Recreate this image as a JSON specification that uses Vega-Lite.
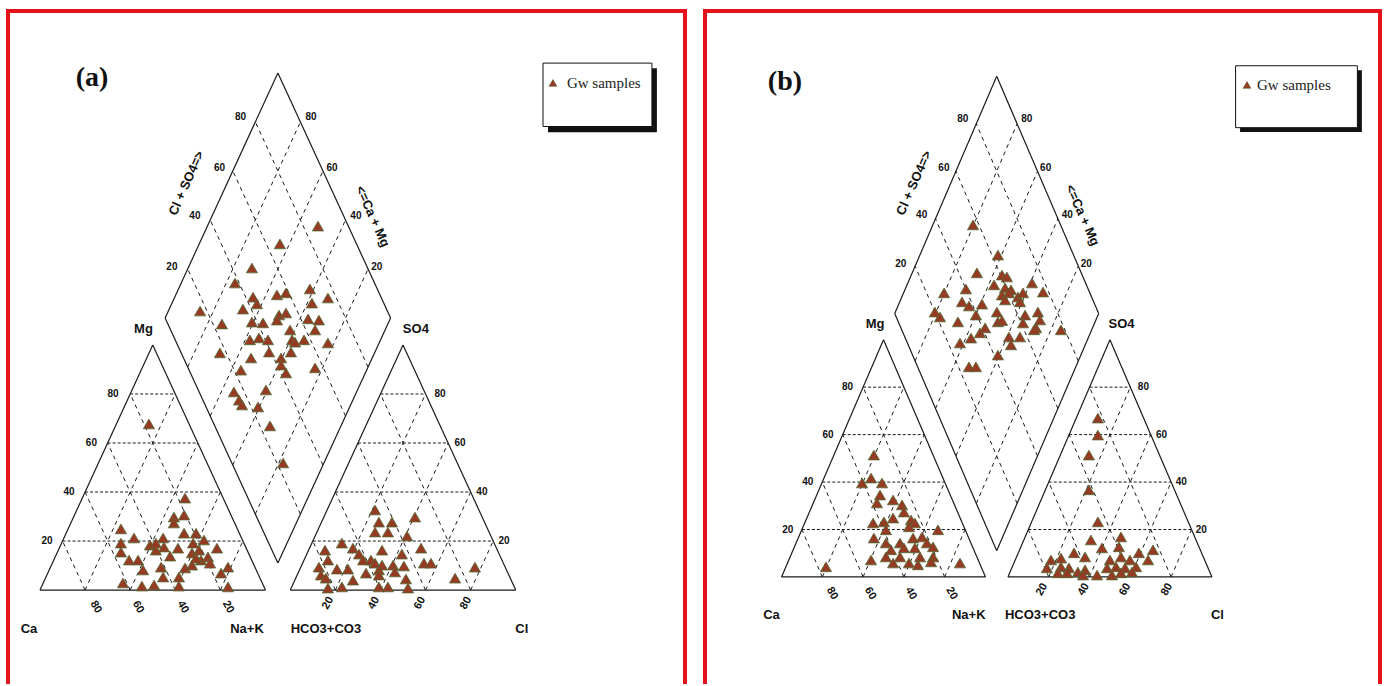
{
"$schema":"https://vega.github.io/schema/vega-lite/v6.json",
"padding":0,"spacing":0,"bounds":"flush","background":"white",
"config":{"view":{"stroke":null}},
"datasets":{
"frame":[
{"p":"a","x":-14.19,"y":205.3,"x2":-14.19,"y2":-33.2},
{"p":"a","x":286.06,"y":205.3,"x2":286.06,"y2":-33.2},
{"p":"a","x":-15.08,"y":204.6,"x2":286.95,"y2":204.6},
{"p":"b","x":-37.5,"y":207.3,"x2":-37.5,"y2":-39.06},
{"p":"b","x":293.4,"y":207.3,"x2":293.4,"y2":-39.06},
{"p":"b","x":-38.48,"y":206.6,"x2":294.38,"y2":206.6}
],
"grid":[
{"k":"outline","x":0,"y":0,"x2":100,"y2":0},
{"k":"outline","x":0,"y":0,"x2":50,"y2":86.6},
{"k":"outline","x":100,"y":0,"x2":50,"y2":86.6},
{"k":"outline","x":111,"y":0,"x2":211,"y2":0},
{"k":"outline","x":111,"y":0,"x2":161,"y2":86.6},
{"k":"outline","x":211,"y":0,"x2":161,"y2":86.6},
{"k":"outline","x":105.5,"y":9.53,"x2":55.5,"y2":96.13},
{"k":"outline","x":105.5,"y":9.53,"x2":155.5,"y2":96.13},
{"k":"outline","x":55.5,"y":96.13,"x2":105.5,"y2":182.73},
{"k":"outline","x":155.5,"y":96.13,"x2":105.5,"y2":182.73},
{"k":"h","x":10,"y":17.32,"x2":90,"y2":17.32},
{"k":"h","x":20,"y":34.64,"x2":80,"y2":34.64},
{"k":"h","x":30,"y":51.96,"x2":70,"y2":51.96},
{"k":"h","x":40,"y":69.28,"x2":60,"y2":69.28},
{"k":"h","x":121,"y":17.32,"x2":201,"y2":17.32},
{"k":"h","x":131,"y":34.64,"x2":191,"y2":34.64},
{"k":"h","x":141,"y":51.96,"x2":181,"y2":51.96},
{"k":"h","x":151,"y":69.28,"x2":171,"y2":69.28},
{"k":"s","x":20,"y":0,"x2":60,"y2":69.28},
{"k":"s","x":40,"y":0,"x2":70,"y2":51.96},
{"k":"s","x":60,"y":0,"x2":80,"y2":34.64},
{"k":"s","x":80,"y":0,"x2":90,"y2":17.32},
{"k":"s","x":20,"y":0,"x2":10,"y2":17.32},
{"k":"s","x":40,"y":0,"x2":20,"y2":34.64},
{"k":"s","x":60,"y":0,"x2":30,"y2":51.96},
{"k":"s","x":80,"y":0,"x2":40,"y2":69.28},
{"k":"s","x":131,"y":0,"x2":171,"y2":69.28},
{"k":"s","x":151,"y":0,"x2":181,"y2":51.96},
{"k":"s","x":171,"y":0,"x2":191,"y2":34.64},
{"k":"s","x":191,"y":0,"x2":201,"y2":17.32},
{"k":"s","x":131,"y":0,"x2":121,"y2":17.32},
{"k":"s","x":151,"y":0,"x2":131,"y2":34.64},
{"k":"s","x":171,"y":0,"x2":141,"y2":51.96},
{"k":"s","x":191,"y":0,"x2":151,"y2":69.28},
{"k":"s","x":115.5,"y":26.85,"x2":65.5,"y2":113.45},
{"k":"s","x":125.5,"y":44.17,"x2":75.5,"y2":130.77},
{"k":"s","x":135.5,"y":61.49,"x2":85.5,"y2":148.09},
{"k":"s","x":145.5,"y":78.81,"x2":95.5,"y2":165.41},
{"k":"s","x":95.5,"y":26.85,"x2":145.5,"y2":113.45},
{"k":"s","x":85.5,"y":44.17,"x2":135.5,"y2":130.77},
{"k":"s","x":75.5,"y":61.49,"x2":125.5,"y2":148.09},
{"k":"s","x":65.5,"y":78.81,"x2":115.5,"y2":165.41}
],
"labels":[
{"k":"corner","t":"Ca","x":-4.9,"y":-13.8},
{"k":"corner","t":"Na+K","x":91.8,"y":-13.8},
{"k":"corner","t":"HCO3+CO3","x":126.8,"y":-13.8},
{"k":"corner","t":"Cl","x":213.7,"y":-13.8},
{"k":"corner","t":"Mg","x":45.9,"y":92.2},
{"k":"corner","t":"SO4","x":166.7,"y":92.2},
{"k":"tick","t":"80","x":32.4,"y":69.3},
{"k":"tick","t":"60","x":22.8,"y":52.0},
{"k":"tick","t":"40","x":12.9,"y":34.6},
{"k":"tick","t":"20","x":3.1,"y":17.3},
{"k":"tick","t":"80","x":177.4,"y":69.3},
{"k":"tick","t":"60","x":186.3,"y":52.0},
{"k":"tick","t":"40","x":196.0,"y":34.6},
{"k":"tick","t":"20","x":205.8,"y":17.3},
{"k":"tick","t":"80","x":88.9,"y":167.1},
{"k":"tick","t":"60","x":79.6,"y":149.1},
{"k":"tick","t":"40","x":68.7,"y":132.2},
{"k":"tick","t":"20","x":58.5,"y":114.1},
{"k":"tick","t":"80","x":120.2,"y":167.1},
{"k":"tick","t":"60","x":129.5,"y":149.1},
{"k":"tick","t":"40","x":140.1,"y":132.2},
{"k":"tick","t":"20","x":149.4,"y":114.1},
{"k":"tickCa","t":"80","x":24.8,"y":-6.0},
{"k":"tickCa","t":"60","x":43.5,"y":-6.0},
{"k":"tickCa","t":"40","x":63.4,"y":-6.0},
{"k":"tickCa","t":"20","x":83.4,"y":-6.0},
{"k":"tickCl","t":"20","x":127.7,"y":-4.6},
{"k":"tickCl","t":"40","x":148.1,"y":-4.6},
{"k":"tickCl","t":"60","x":168.5,"y":-4.6},
{"k":"tickCl","t":"80","x":188.9,"y":-4.6},
{"k":"titleL","t":"Cl + SO4=>","x":65.0,"y":143.8},
{"k":"titleR","t":"<=Ca + Mg","x":147.5,"y":132.0}
],
"legend":[
{"p":"a","k":"shadow","x":225.3,"y":184.4,"x2":273.6,"y2":161.8},
{"p":"a","k":"box","x":223.1,"y":186.2,"x2":271.4,"y2":163.8},
{"p":"b","k":"shadow","x":224.8,"y":185.0,"x2":284.5,"y2":162.4},
{"p":"b","k":"box","x":222.6,"y":186.6,"x2":282.3,"y2":164.0}
],
"legendItem":[
{"p":"a","k":"sym","t":"Gw samples","x":227.5,"y":179.2},
{"p":"a","k":"txt","t":"Gw samples","x":233.7,"y":179.2},
{"p":"b","k":"sym","t":"Gw samples","x":228.2,"y":179.6},
{"p":"b","k":"txt","t":"Gw samples","x":233.1,"y":179.6}
],
"panelLabel":[
{"p":"a","t":"(a)","x":23.1,"y":180.9},
{"p":"b","t":"(b)","x":1.7,"y":180.7}
],
"points":[
{"p":"a","x":123.3,"y":128.6},{"p":"a","x":106.4,"y":122.3},{"p":"a","x":94.0,"y":113.8},{"p":"a","x":86.5,"y":108.5},{"p":"a","x":71.0,"y":98.6},{"p":"a","x":80.7,"y":94.0},{"p":"a","x":94.5,"y":103.5},{"p":"a","x":96.2,"y":101.1},{"p":"a","x":90.0,"y":99.3},{"p":"a","x":105.1,"y":104.3},{"p":"a","x":109.1,"y":105.0},{"p":"a","x":119.7,"y":106.4},{"p":"a","x":120.6,"y":101.4},{"p":"a","x":127.7,"y":103.2},{"p":"a","x":106.0,"y":97.2},{"p":"a","x":109.1,"y":97.9},{"p":"a","x":94.0,"y":94.7},{"p":"a","x":98.9,"y":94.4},{"p":"a","x":105.1,"y":95.4},{"p":"a","x":118.9,"y":95.8},{"p":"a","x":123.7,"y":95.4},{"p":"a","x":122.0,"y":91.9},{"p":"a","x":110.9,"y":91.9},{"p":"a","x":93.1,"y":88.4},{"p":"a","x":97.1,"y":89.1},{"p":"a","x":101.1,"y":88.4},{"p":"a","x":111.8,"y":88.4},{"p":"a","x":117.1,"y":88.4},{"p":"a","x":127.7,"y":87.3},{"p":"a","x":113.1,"y":87.6},{"p":"a","x":79.8,"y":83.8},{"p":"a","x":93.6,"y":82.0},{"p":"a","x":101.6,"y":84.1},{"p":"a","x":111.3,"y":84.1},{"p":"a","x":106.9,"y":82.0},{"p":"a","x":106.9,"y":79.5},{"p":"a","x":109.1,"y":76.7},{"p":"a","x":89.1,"y":77.7},{"p":"a","x":100.2,"y":70.7},{"p":"a","x":86.0,"y":70.0},{"p":"a","x":88.3,"y":67.1},{"p":"a","x":89.6,"y":65.4},{"p":"a","x":96.7,"y":64.7},{"p":"a","x":102.0,"y":58.0},{"p":"a","x":107.8,"y":44.9},{"p":"a","x":122.0,"y":78.5},
{"p":"a","x":48.3,"y":58.7},{"p":"a","x":64.3,"y":32.5},{"p":"a","x":59.4,"y":25.8},{"p":"a","x":63.9,"y":26.5},{"p":"a","x":59.4,"y":23.7},{"p":"a","x":35.9,"y":21.6},{"p":"a","x":63.9,"y":20.1},{"p":"a","x":69.2,"y":20.1},{"p":"a","x":35.9,"y":16.6},{"p":"a","x":41.7,"y":18.4},{"p":"a","x":48.8,"y":15.9},{"p":"a","x":54.6,"y":18.4},{"p":"a","x":55.0,"y":15.2},{"p":"a","x":61.2,"y":14.8},{"p":"a","x":67.9,"y":16.6},{"p":"a","x":72.7,"y":17.7},{"p":"a","x":78.5,"y":14.8},{"p":"a","x":35.9,"y":13.4},{"p":"a","x":39.5,"y":10.6},{"p":"a","x":43.5,"y":10.6},{"p":"a","x":51.4,"y":14.1},{"p":"a","x":57.7,"y":12.0},{"p":"a","x":67.4,"y":13.1},{"p":"a","x":70.5,"y":14.1},{"p":"a","x":71.4,"y":10.6},{"p":"a","x":74.5,"y":11.7},{"p":"a","x":75.4,"y":9.5},{"p":"a","x":83.4,"y":8.1},{"p":"a","x":45.7,"y":7.1},{"p":"a","x":53.7,"y":8.1},{"p":"a","x":64.3,"y":7.8},{"p":"a","x":67.4,"y":8.8},{"p":"a","x":80.3,"y":6.0},{"p":"a","x":54.6,"y":4.6},{"p":"a","x":61.6,"y":4.6},{"p":"a","x":36.8,"y":2.5},{"p":"a","x":45.2,"y":1.4},{"p":"a","x":50.6,"y":1.8},{"p":"a","x":61.6,"y":1.4},{"p":"a","x":83.4,"y":1.1},{"p":"a","x":51.4,"y":16.6},{"p":"a","x":69.2,"y":11.3},
{"p":"a","x":148.6,"y":28.3},{"p":"a","x":150.3,"y":24.0},{"p":"a","x":156.1,"y":24.0},{"p":"a","x":166.3,"y":25.8},{"p":"a","x":148.6,"y":20.5},{"p":"a","x":154.3,"y":20.5},{"p":"a","x":162.8,"y":19.1},{"p":"a","x":133.9,"y":16.6},{"p":"a","x":138.8,"y":14.8},{"p":"a","x":126.4,"y":14.1},{"p":"a","x":141.5,"y":12.7},{"p":"a","x":151.7,"y":14.1},{"p":"a","x":160.5,"y":12.7},{"p":"a","x":169.0,"y":14.8},{"p":"a","x":127.7,"y":10.6},{"p":"a","x":143.3,"y":10.6},{"p":"a","x":146.8,"y":10.6},{"p":"a","x":148.6,"y":9.5},{"p":"a","x":151.7,"y":8.8},{"p":"a","x":156.6,"y":8.8},{"p":"a","x":161.4,"y":8.5},{"p":"a","x":170.3,"y":9.5},{"p":"a","x":173.4,"y":9.5},{"p":"a","x":192.9,"y":8.1},{"p":"a","x":123.7,"y":8.1},{"p":"a","x":131.7,"y":7.4},{"p":"a","x":136.6,"y":7.4},{"p":"a","x":150.3,"y":7.1},{"p":"a","x":157.4,"y":6.4},{"p":"a","x":124.6,"y":5.3},{"p":"a","x":126.8,"y":4.2},{"p":"a","x":138.8,"y":3.5},{"p":"a","x":144.6,"y":6.0},{"p":"a","x":150.3,"y":5.3},{"p":"a","x":162.3,"y":3.9},{"p":"a","x":184.1,"y":4.2},{"p":"a","x":127.7,"y":0.7},{"p":"a","x":133.9,"y":1.1},{"p":"a","x":150.3,"y":1.1},{"p":"a","x":154.3,"y":1.1},{"p":"a","x":163.2,"y":0.7},
{"p":"b","x":93.9,"y":128.5},{"p":"b","x":106.1,"y":117.5},{"p":"b","x":95.8,"y":111.0},{"p":"b","x":108.1,"y":110.2},{"p":"b","x":110.5,"y":109.5},{"p":"b","x":122.8,"y":107.3},{"p":"b","x":104.2,"y":106.6},{"p":"b","x":79.7,"y":103.7},{"p":"b","x":90.4,"y":105.1},{"p":"b","x":109.6,"y":105.5},{"p":"b","x":112.5,"y":104.8},{"p":"b","x":108.1,"y":102.9},{"p":"b","x":111.5,"y":103.7},{"p":"b","x":115.9,"y":102.2},{"p":"b","x":118.4,"y":103.7},{"p":"b","x":128.2,"y":104.0},{"p":"b","x":88.5,"y":100.4},{"p":"b","x":91.9,"y":98.9},{"p":"b","x":98.3,"y":99.6},{"p":"b","x":109.6,"y":101.1},{"p":"b","x":116.9,"y":100.4},{"p":"b","x":75.2,"y":96.7},{"p":"b","x":77.7,"y":94.9},{"p":"b","x":86.5,"y":93.1},{"p":"b","x":95.3,"y":95.6},{"p":"b","x":105.6,"y":96.7},{"p":"b","x":106.1,"y":93.1},{"p":"b","x":119.4,"y":95.6},{"p":"b","x":125.7,"y":96.7},{"p":"b","x":126.7,"y":93.8},{"p":"b","x":99.8,"y":90.9},{"p":"b","x":108.1,"y":93.6},{"p":"b","x":118.4,"y":92.7},{"p":"b","x":124.8,"y":90.9},{"p":"b","x":137.0,"y":90.2},{"p":"b","x":97.3,"y":89.1},{"p":"b","x":111.5,"y":87.6},{"p":"b","x":87.5,"y":85.4},{"p":"b","x":92.9,"y":87.2},{"p":"b","x":116.9,"y":87.6},{"p":"b","x":123.8,"y":90.2},{"p":"b","x":112.5,"y":84.7},{"p":"b","x":106.1,"y":81.0},{"p":"b","x":91.9,"y":76.7},{"p":"b","x":95.3,"y":76.7},
{"p":"b","x":45.3,"y":44.5},{"p":"b","x":43.9,"y":36.1},{"p":"b","x":39.5,"y":34.3},{"p":"b","x":49.3,"y":34.3},{"p":"b","x":48.3,"y":29.9},{"p":"b","x":46.8,"y":27.0},{"p":"b","x":54.7,"y":28.1},{"p":"b","x":59.1,"y":26.3},{"p":"b","x":60.0,"y":23.7},{"p":"b","x":50.2,"y":20.1},{"p":"b","x":54.7,"y":21.5},{"p":"b","x":44.9,"y":19.7},{"p":"b","x":63.5,"y":20.8},{"p":"b","x":65.4,"y":19.7},{"p":"b","x":51.2,"y":17.2},{"p":"b","x":62.5,"y":18.3},{"p":"b","x":76.7,"y":17.2},{"p":"b","x":45.3,"y":14.2},{"p":"b","x":51.2,"y":12.4},{"p":"b","x":58.1,"y":12.4},{"p":"b","x":64.5,"y":14.2},{"p":"b","x":68.9,"y":14.6},{"p":"b","x":71.3,"y":12.4},{"p":"b","x":74.3,"y":11.0},{"p":"b","x":53.7,"y":9.9},{"p":"b","x":60.0,"y":10.6},{"p":"b","x":65.4,"y":10.6},{"p":"b","x":51.2,"y":7.3},{"p":"b","x":58.1,"y":7.3},{"p":"b","x":67.9,"y":7.3},{"p":"b","x":74.3,"y":7.3},{"p":"b","x":43.9,"y":6.2},{"p":"b","x":54.7,"y":5.1},{"p":"b","x":62.5,"y":5.1},{"p":"b","x":66.9,"y":4.4},{"p":"b","x":73.3,"y":5.5},{"p":"b","x":87.5,"y":5.1},{"p":"b","x":21.8,"y":3.7},
{"p":"b","x":155.1,"y":58.0},{"p":"b","x":155.1,"y":51.8},{"p":"b","x":150.7,"y":44.5},{"p":"b","x":150.7,"y":31.8},{"p":"b","x":155.1,"y":20.1},{"p":"b","x":151.7,"y":13.5},{"p":"b","x":166.4,"y":14.6},{"p":"b","x":157.1,"y":10.6},{"p":"b","x":165.4,"y":11.0},{"p":"b","x":182.1,"y":9.9},{"p":"b","x":132.1,"y":6.2},{"p":"b","x":137.0,"y":6.9},{"p":"b","x":143.4,"y":8.8},{"p":"b","x":148.8,"y":7.3},{"p":"b","x":161.0,"y":6.2},{"p":"b","x":166.4,"y":7.3},{"p":"b","x":170.8,"y":6.2},{"p":"b","x":175.2,"y":8.8},{"p":"b","x":179.7,"y":6.2},{"p":"b","x":130.1,"y":3.3},{"p":"b","x":137.0,"y":3.7},{"p":"b","x":140.9,"y":3.3},{"p":"b","x":145.3,"y":1.8},{"p":"b","x":148.8,"y":2.6},{"p":"b","x":159.6,"y":3.3},{"p":"b","x":164.0,"y":3.7},{"p":"b","x":168.4,"y":3.3},{"p":"b","x":173.8,"y":3.7},{"p":"b","x":135.5,"y":1.5},{"p":"b","x":140.0,"y":1.5},{"p":"b","x":147.8,"y":0.7},{"p":"b","x":154.7,"y":0.7},{"p":"b","x":162.0,"y":0.7},{"p":"b","x":166.4,"y":1.5},{"p":"b","x":171.8,"y":1.8}
]
},
"hconcat":[
{
"width":695,"height":686,
"encoding":{
"x":{"field":"x","type":"quantitative","scale":{"domain":[-17.74,290.5],"nice":false,"zero":false},"axis":null},
"y":{"field":"y","type":"quantitative","scale":{"domain":[-33.9,208.5],"nice":false,"zero":false},"axis":null}
},
"layer":[
{"data":{"name":"frame"},"transform":[{"filter":"datum.p=='a'"}],"mark":{"type":"rule","color":"#e3121b","strokeWidth":4},"encoding":{"x2":{"field":"x2"},"y2":{"field":"y2"}}},
{"data":{"name":"grid"},"transform":[{"filter":"datum.k=='outline'"}],"mark":{"type":"rule","color":"#1a1a1a","strokeWidth":1.2},"encoding":{"x2":{"field":"x2"},"y2":{"field":"y2"}}},
{"data":{"name":"grid"},"transform":[{"filter":"datum.k=='h'"}],"mark":{"type":"rule","color":"#1a1a1a","strokeWidth":1,"strokeDash":[3,2]},"encoding":{"x2":{"field":"x2"},"y2":{"field":"y2"}}},
{"data":{"name":"grid"},"transform":[{"filter":"datum.k=='s'"}],"mark":{"type":"rule","color":"#1a1a1a","strokeWidth":1,"strokeDash":[4,4]},"encoding":{"x2":{"field":"x2"},"y2":{"field":"y2"}}},
{"data":{"name":"legend"},"transform":[{"filter":"datum.p=='a' && datum.k=='shadow'"}],"mark":{"type":"rect","color":"#111"},"encoding":{"x2":{"field":"x2"},"y2":{"field":"y2"}}},
{"data":{"name":"legend"},"transform":[{"filter":"datum.p=='a' && datum.k=='box'"}],"mark":{"type":"rect","fill":"white","stroke":"#111","strokeWidth":1},"encoding":{"x2":{"field":"x2"},"y2":{"field":"y2"}}},
{"data":{"name":"legendItem"},"transform":[{"filter":"datum.p=='a' && datum.k=='sym'"}],"mark":{"type":"point","shape":"triangle-up","filled":true,"fill":"#973a24","stroke":"#5a5a2a","strokeWidth":0.6,"size":60,"opacity":1}},
{"data":{"name":"legendItem"},"transform":[{"filter":"datum.p=='a' && datum.k=='txt'"}],"mark":{"type":"text","align":"left","baseline":"middle","font":"Liberation Serif","fontSize":15,"color":"#222"},"encoding":{"text":{"field":"t"}}},
{"data":{"name":"points"},"transform":[{"filter":"datum.p=='a'"}],"mark":{"type":"point","shape":"triangle-up","filled":true,"fill":"#973a24","stroke":"#4e6a32","strokeWidth":0.8,"size":125,"opacity":1}},
{"data":{"name":"panelLabel"},"transform":[{"filter":"datum.p=='a'"}],"mark":{"type":"text","font":"Liberation Serif","fontWeight":"bold","fontSize":28,"color":"#111"},"encoding":{"text":{"field":"t"}}},
{"data":{"name":"labels"},"transform":[{"filter":"datum.k=='corner'"}],"mark":{"type":"text","font":"Liberation Sans","fontWeight":"bold","fontSize":13,"color":"#111"},"encoding":{"text":{"field":"t"}}},
{"data":{"name":"labels"},"transform":[{"filter":"datum.k=='tick'"}],"mark":{"type":"text","font":"Liberation Sans","fontWeight":"bold","fontSize":10,"color":"#111"},"encoding":{"text":{"field":"t"}}},
{"data":{"name":"labels"},"transform":[{"filter":"datum.k=='tickCa'"}],"mark":{"type":"text","font":"Liberation Sans","fontWeight":"bold","fontSize":11,"angle":60,"color":"#111"},"encoding":{"text":{"field":"t"}}},
{"data":{"name":"labels"},"transform":[{"filter":"datum.k=='tickCl'"}],"mark":{"type":"text","font":"Liberation Sans","fontWeight":"bold","fontSize":11,"angle":-60,"color":"#111"},"encoding":{"text":{"field":"t"}}},
{"data":{"name":"labels"},"transform":[{"filter":"datum.k=='titleL'"}],"mark":{"type":"text","font":"Liberation Sans","fontWeight":"bold","fontSize":13,"angle":-66,"color":"#111"},"encoding":{"text":{"field":"t"}}},
{"data":{"name":"labels"},"transform":[{"filter":"datum.k=='titleR'"}],"mark":{"type":"text","font":"Liberation Sans","fontWeight":"bold","fontSize":13,"angle":66,"color":"#111"},"encoding":{"text":{"field":"t"}}}
]
},
{
"width":694,"height":686,
"encoding":{
"x":{"field":"x","type":"quantitative","scale":{"domain":[-42.4,297.8],"nice":false,"zero":false},"axis":null},
"y":{"field":"y","type":"quantitative","scale":{"domain":[-39.8,210.6],"nice":false,"zero":false},"axis":null}
},
"layer":[
{"data":{"name":"frame"},"transform":[{"filter":"datum.p=='b'"}],"mark":{"type":"rule","color":"#e3121b","strokeWidth":4},"encoding":{"x2":{"field":"x2"},"y2":{"field":"y2"}}},
{"data":{"name":"grid"},"transform":[{"filter":"datum.k=='outline'"}],"mark":{"type":"rule","color":"#1a1a1a","strokeWidth":1.2},"encoding":{"x2":{"field":"x2"},"y2":{"field":"y2"}}},
{"data":{"name":"grid"},"transform":[{"filter":"datum.k=='h'"}],"mark":{"type":"rule","color":"#1a1a1a","strokeWidth":1,"strokeDash":[3,2]},"encoding":{"x2":{"field":"x2"},"y2":{"field":"y2"}}},
{"data":{"name":"grid"},"transform":[{"filter":"datum.k=='s'"}],"mark":{"type":"rule","color":"#1a1a1a","strokeWidth":1,"strokeDash":[4,4]},"encoding":{"x2":{"field":"x2"},"y2":{"field":"y2"}}},
{"data":{"name":"legend"},"transform":[{"filter":"datum.p=='b' && datum.k=='shadow'"}],"mark":{"type":"rect","color":"#111"},"encoding":{"x2":{"field":"x2"},"y2":{"field":"y2"}}},
{"data":{"name":"legend"},"transform":[{"filter":"datum.p=='b' && datum.k=='box'"}],"mark":{"type":"rect","fill":"white","stroke":"#111","strokeWidth":1},"encoding":{"x2":{"field":"x2"},"y2":{"field":"y2"}}},
{"data":{"name":"legendItem"},"transform":[{"filter":"datum.p=='b' && datum.k=='sym'"}],"mark":{"type":"point","shape":"triangle-up","filled":true,"fill":"#973a24","stroke":"#5a5a2a","strokeWidth":0.6,"size":60,"opacity":1}},
{"data":{"name":"legendItem"},"transform":[{"filter":"datum.p=='b' && datum.k=='txt'"}],"mark":{"type":"text","align":"left","baseline":"middle","font":"Liberation Serif","fontSize":15,"color":"#222"},"encoding":{"text":{"field":"t"}}},
{"data":{"name":"points"},"transform":[{"filter":"datum.p=='b'"}],"mark":{"type":"point","shape":"triangle-up","filled":true,"fill":"#973a24","stroke":"#4e6a32","strokeWidth":0.8,"size":125,"opacity":1}},
{"data":{"name":"panelLabel"},"transform":[{"filter":"datum.p=='b'"}],"mark":{"type":"text","font":"Liberation Serif","fontWeight":"bold","fontSize":28,"color":"#111"},"encoding":{"text":{"field":"t"}}},
{"data":{"name":"labels"},"transform":[{"filter":"datum.k=='corner'"}],"mark":{"type":"text","font":"Liberation Sans","fontWeight":"bold","fontSize":13,"color":"#111"},"encoding":{"text":{"field":"t"}}},
{"data":{"name":"labels"},"transform":[{"filter":"datum.k=='tick'"}],"mark":{"type":"text","font":"Liberation Sans","fontWeight":"bold","fontSize":10,"color":"#111"},"encoding":{"text":{"field":"t"}}},
{"data":{"name":"labels"},"transform":[{"filter":"datum.k=='tickCa'"}],"mark":{"type":"text","font":"Liberation Sans","fontWeight":"bold","fontSize":11,"angle":60,"color":"#111"},"encoding":{"text":{"field":"t"}}},
{"data":{"name":"labels"},"transform":[{"filter":"datum.k=='tickCl'"}],"mark":{"type":"text","font":"Liberation Sans","fontWeight":"bold","fontSize":11,"angle":-60,"color":"#111"},"encoding":{"text":{"field":"t"}}},
{"data":{"name":"labels"},"transform":[{"filter":"datum.k=='titleL'"}],"mark":{"type":"text","font":"Liberation Sans","fontWeight":"bold","fontSize":13,"angle":-66,"color":"#111"},"encoding":{"text":{"field":"t"}}},
{"data":{"name":"labels"},"transform":[{"filter":"datum.k=='titleR'"}],"mark":{"type":"text","font":"Liberation Sans","fontWeight":"bold","fontSize":13,"angle":66,"color":"#111"},"encoding":{"text":{"field":"t"}}}
]
}
]
}
